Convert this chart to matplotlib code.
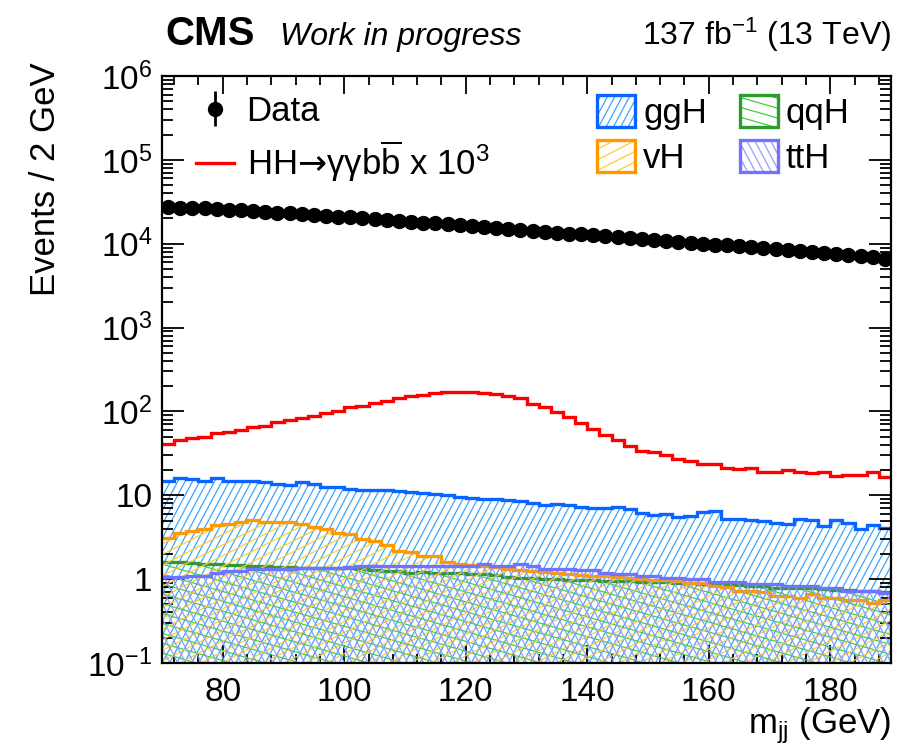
import numpy as np
import matplotlib
matplotlib.use('Agg')
import matplotlib.pyplot as plt
from matplotlib.collections import LineCollection
from matplotlib.patches import Patch, Rectangle
from matplotlib.lines import Line2D
from matplotlib.legend_handler import HandlerBase
from matplotlib.ticker import MultipleLocator, LogLocator, NullFormatter

plt.rcParams['font.family'] = ['Liberation Sans', 'DejaVu Sans']
plt.rcParams['mathtext.fontset'] = 'custom'
plt.rcParams['mathtext.rm'] = 'Liberation Sans'
plt.rcParams['mathtext.it'] = 'Liberation Sans:italic'
plt.rcParams['mathtext.bf'] = 'Liberation Sans:bold'
plt.rcParams['mathtext.sf'] = 'DejaVu Sans'

# m_jj binning: 70-190 GeV, 2 GeV per bin
mjj_lo, mjj_hi, bin_width = 70, 190, 2

data_counts = [27100, 27000, 26800, 26400, 26000, 25500, 25100, 24500, 24000, 23500,
               23000, 22500, 22000, 21500, 21000, 20600, 20100, 19600, 19200, 18700,
               18300, 17900, 17500, 17100, 16700, 16300, 15800, 15400, 15100, 14700,
               14300, 13900, 13600, 13200, 12900, 12600, 12300, 12000, 11700, 11400,
               11100, 10800, 10500, 10300, 10000, 9770, 9530, 9290, 9060, 8830,
               8610, 8400, 8190, 7980, 7780, 7590, 7400, 7200, 6950, 6600]

# HH -> gg bb signal, scaled by 10^3
hh_x1000 = [40.7, 45.9, 47.6, 49.8, 54.6, 57.2, 60.4, 64.4, 67.5, 73.9,
            78.7, 82.5, 88.8, 96.4, 102, 112, 117, 126, 132, 144,
            153, 157, 164, 169, 169, 169, 168, 160, 154, 143,
            122, 112, 99, 86, 72, 61.5, 52.7, 45.9, 38.9, 33.9,
            32.4, 30.1, 26.9, 25.3, 23.9, 23.5, 21.4, 20.5, 21.4, 19.0,
            19.0, 19.9, 19.2, 18.2, 18.7, 17.0, 17.5, 17.4, 18.7, 16.6]

ggh = [14.7, 16.0, 15.5, 15.0, 16.0, 14.9, 14.7, 15.0, 14.5, 13.8,
       13.4, 14.3, 13.7, 12.7, 12.4, 11.8, 11.6, 11.7, 11.5, 11.3,
       11.0, 10.7, 10.4, 10.0, 9.46, 9.2, 8.95, 8.95, 8.71, 8.57,
       8.18, 7.74, 7.96, 7.6, 7.33, 7.13, 7.0, 7.26, 6.93, 6.1,
       5.77, 6.04, 5.52, 5.67, 6.38, 6.5, 5.27, 5.17, 5.08, 4.94,
       4.72, 4.51, 5.17, 5.03, 4.31, 5.08, 4.63, 3.93, 4.43, 4.11]

qqh = [1.61, 1.58, 1.55, 1.53, 1.50, 1.49, 1.47, 1.45, 1.43, 1.41,
       1.39, 1.37, 1.37, 1.36, 1.36, 1.37, 1.33, 1.28, 1.25, 1.24,
       1.19, 1.20, 1.19, 1.18, 1.19, 1.14, 1.14, 1.13, 1.06, 1.04,
       1.02, 1.00, 0.99, 0.98, 0.97, 0.97, 0.96, 0.95, 0.95, 0.93,
       0.92, 0.92, 0.91, 0.90, 0.88, 0.87, 0.86, 0.85, 0.83, 0.82,
       0.79, 0.79, 0.79, 0.78, 0.76, 0.75, 0.75, 0.73, 0.72, 0.71]

vh = [3.12, 3.52, 3.76, 4.00, 4.38, 4.50, 4.81, 5.03, 4.85, 4.81,
      4.81, 4.59, 4.23, 3.93, 3.58, 3.42, 2.98, 2.82, 2.55, 2.17,
      2.10, 1.89, 1.87, 1.62, 1.50, 1.48, 1.43, 1.40, 1.31, 1.29,
      1.25, 1.23, 1.19, 1.16, 1.12, 1.10, 1.10, 1.06, 1.04, 0.99,
      0.98, 0.97, 0.95, 0.91, 0.90, 0.83, 0.80, 0.72, 0.72, 0.70,
      0.63, 0.63, 0.60, 0.66, 0.60, 0.60, 0.56, 0.56, 0.52, 0.56]

tth = [1.06, 1.06, 1.09, 1.09, 1.19, 1.25, 1.25, 1.33, 1.33, 1.33,
       1.33, 1.37, 1.37, 1.37, 1.37, 1.39, 1.43, 1.43, 1.43, 1.43,
       1.43, 1.43, 1.43, 1.43, 1.43, 1.43, 1.53, 1.43, 1.43, 1.50,
       1.43, 1.31, 1.31, 1.31, 1.27, 1.27, 1.19, 1.16, 1.16, 1.09,
       1.09, 1.02, 1.02, 0.99, 0.99, 0.93, 0.93, 0.93, 0.88, 0.88,
       0.865, 0.826, 0.826, 0.826, 0.789, 0.789, 0.72, 0.72, 0.72, 0.69]

edges = np.arange(mjj_lo, mjj_hi + bin_width, bin_width)
centers = 0.5 * (edges[:-1] + edges[1:])
ymin, ymax = 0.1, 1e6

W, H, DPI = 9, 7.55, 100
fig = plt.figure(figsize=(W, H), dpi=DPI)
ax_box = [0.18, 0.1219, 0.81, 0.7774]
ax = fig.add_axes(ax_box)
ax.set_yscale('log')
ax_w = ax_box[2] * W * DPI
ax_h = ax_box[3] * H * DPI


def hatch_segments(angle, spacing, w, h):
    # parallel lines covering a w x h box, angle in degrees, spacing perpendicular
    t = np.radians(angle)
    d = np.array([np.cos(t), np.sin(t)])
    n = np.array([-np.sin(t), np.cos(t)])
    corners = np.array([[0, 0], [w, 0], [0, h], [w, h]])
    proj = corners @ n
    L = np.hypot(w, h)
    segs = []
    for c in np.arange(proj.min(), proj.max() + spacing, spacing):
        segs.append([c * n - L * d, c * n + L * d])
    return np.array(segs)


def draw_component(values, line_color, hatch_color, angle, spacing, z):
    body = ax.stairs(values, edges, baseline=ymin, fill=True,
                     facecolor='none', edgecolor='none', zorder=z)
    segs = hatch_segments(angle, spacing, ax_w, ax_h)
    segs[..., 0] /= ax_w
    segs[..., 1] /= ax_h
    lc = LineCollection(segs, colors=hatch_color, linewidths=0.9,
                        transform=ax.transAxes, zorder=z)
    ax.add_collection(lc, autolim=False)
    lc.set_clip_path(body)
    ax.stairs(values, edges, baseline=None, color=line_color,
              linewidth=2.4, zorder=z + 0.5)


class HatchBox(HandlerBase):
    def __init__(self, line_color, hatch_color, angle, spacing):
        super().__init__()
        self.line_color = line_color
        self.hatch_color = hatch_color
        self.angle = angle
        self.spacing = spacing

    def create_artists(self, legend, orig_handle, xdescent, ydescent,
                       width, height, fontsize, trans):
        x0, y0 = -xdescent, -ydescent
        frame = Rectangle((x0, y0), width, height, facecolor='none',
                          edgecolor=self.line_color, linewidth=2.4,
                          transform=trans)
        segs = hatch_segments(self.angle, self.spacing * 72 / DPI, width, height)
        segs[..., 0] += x0
        segs[..., 1] += y0
        lc = LineCollection(segs, colors=self.hatch_color, linewidths=0.9,
                            transform=trans)
        lc.set_clip_path(Rectangle((x0, y0), width, height, transform=trans))
        return [lc, frame]


styles = {
    'ggH': (ggh, '#0a64ff', '#3aa6ff', 62, 6.5),
    'qqH': (qqh, '#2f9a2f', '#3cd23c', -16, 9.5),
    'vH': (vh, '#ff9900', '#ffcc33', 27, 9.5),
    'ttH': (tth, '#7272ff', '#9a9aff', -62, 7.0),
}

for i, name in enumerate(['ggH', 'qqH', 'vH', 'ttH']):
    vals, lcol, hcol, ang, sp = styles[name]
    draw_component(vals, lcol, hcol, ang, sp, 1 + i)

ax.stairs(hh_x1000, edges, baseline=None, color='#ff0000',
          linewidth=2.4, zorder=6)

ax.errorbar(centers, data_counts, yerr=np.sqrt(data_counts),
            fmt='o', color='black', markersize=10, elinewidth=2,
            capsize=0, zorder=7)

ax.set_xlim(mjj_lo, mjj_hi)
ax.set_ylim(ymin, ymax)

ax.set_yticks([1e-1, 1, 10, 1e2, 1e3, 1e4, 1e5, 1e6],
              labels=[r'$10^{-1}$', '1', '10', r'$10^{2}$', r'$10^{3}$',
                      r'$10^{4}$', r'$10^{5}$', r'$10^{6}$'])
ax.yaxis.set_minor_locator(LogLocator(base=10, subs=np.arange(2, 10), numticks=20))
ax.yaxis.set_minor_formatter(NullFormatter())
ax.xaxis.set_major_locator(MultipleLocator(20))
ax.xaxis.set_minor_locator(MultipleLocator(4))

ax.tick_params(which='both', direction='in', top=True, right=True, width=1.3)
ax.tick_params(axis='x', which='major', length=13, labelsize=24, pad=10)
ax.tick_params(axis='x', which='minor', length=6.5)
ax.tick_params(axis='y', which='major', length=16, labelsize=24, pad=7)
ax.tick_params(axis='y', which='minor', length=8)
for sp in ax.spines.values():
    sp.set_linewidth(1.6)
    sp.set_zorder(10)

ax.set_ylabel('Events / 2 GeV', fontsize=25, loc='top')
ax.yaxis.set_label_coords(-0.137, 1.024)
ax.set_xlabel(r'm$_{\mathrm{jj}}$ (GeV)', fontsize=25, loc='right')
ax.xaxis.set_label_coords(1.0, -0.072)

fig.text(165 / 900, 1 - 45 / 755, 'CMS', weight='bold', fontsize=29,
         ha='left', va='baseline')
fig.text(280 / 900, 1 - 45 / 755, 'Work in progress', style='italic',
         fontsize=23, ha='left', va='baseline')
fig.text(891 / 900, 1 - 45 / 755, r'137 fb$^{-1}$ (13 TeV)', fontsize=23,
         ha='right', va='baseline')

# legends
data_handle = ax.errorbar([], [], yerr=[], fmt='o', color='black',
                          markersize=10, elinewidth=2, capsize=0)
hh_handle = Line2D([], [], color='#ff0000', linewidth=2.4)
leg1 = ax.legend([data_handle, hh_handle],
                 ['Data', r'HH$\mathsf{→}$γγb$\overline{\mathrm{b}}$ x 10$^{3}$'],
                 loc='upper left', bbox_to_anchor=(0.047, 0.968), frameon=False,
                 fontsize=25, handlelength=1.1, handletextpad=0.35,
                 labelspacing=0.3, borderpad=0, borderaxespad=0)
ax.add_artist(leg1)

box_names = ['ggH', 'vH', 'qqH', 'ttH']
box_handles = [Patch() for _ in box_names]
hmap = {}
for h, name in zip(box_handles, box_names):
    _, lcol, hcol, ang, sp = styles[name]
    hmap[h] = HatchBox(lcol, hcol, ang, sp)
ax.legend(box_handles, box_names, ncol=2, loc='upper left',
          bbox_to_anchor=(0.597, 0.968), frameon=False, fontsize=25,
          handlelength=1.1, handleheight=1.05, handletextpad=0.22,
          columnspacing=0.95, labelspacing=0.3, borderpad=0,
          borderaxespad=0, handler_map=hmap)

fig.savefig('out.png', dpi=DPI)
